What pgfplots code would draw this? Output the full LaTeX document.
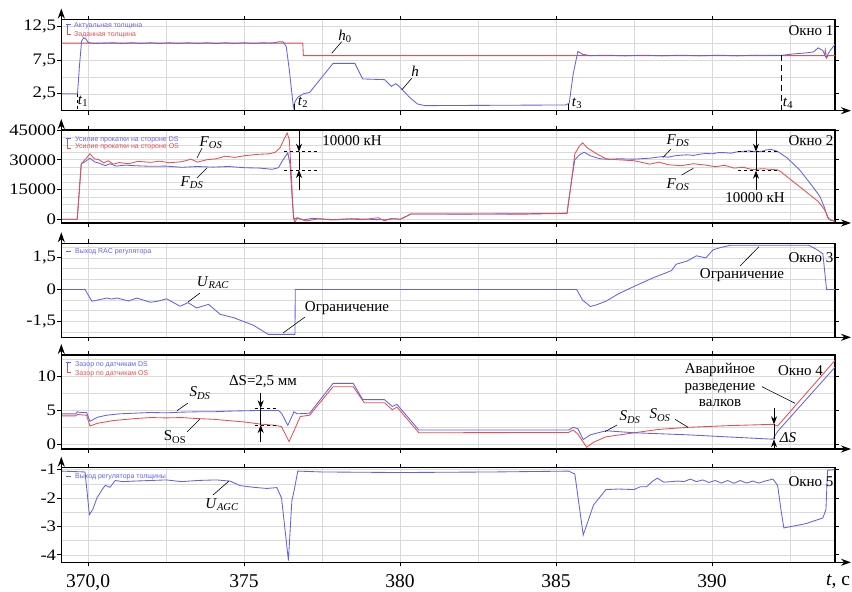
\documentclass[border=0pt]{standalone}
\usepackage{fontspec}
\setmainfont{Liberation Serif}
\newfontfamily\legfont{Liberation Sans}
\usepackage{graphicx}
\usepackage{pgfplots}
\pgfplotsset{compat=1.18}
\usetikzlibrary{arrows.meta}

\definecolor{ublue}{RGB}{98,98,230}
\definecolor{ured}{RGB}{232,78,78}
\definecolor{gridc}{RGB}{218,218,218}

\newcommand\tk[1]{\scalebox{1.17}[1]{#1}}

\pgfplotsset{
  panel/.style={
    anchor=south west, scale only axis, width=773.7pt,
    xmin=369.14, xmax=393.94,
    xtick={370,375,380,385,390},
    minor xtick={372.5,377.5,382.5,387.5,392.5},
    xticklabels={},
    grid=both,
    major grid style={gridc, line width=0.6pt},
    minor grid style={gridc, line width=0.6pt},
    axis line style={line width=1.2pt},
    tick align=outside,
    major tick length=4pt, minor tick length=0pt,
    every tick/.style={black, line width=1pt},
    scaled y ticks=false,
    yticklabel style={font=\rmfamily\fontsize{16}{16}\selectfont, inner sep=1pt},
    xticklabel style={font=\rmfamily\fontsize{19.5}{20}\selectfont, yshift=-5pt},
  },
  ln/.style={line width=0.85pt, no markers},
}

\begin{document}
\begin{tikzpicture}
\path[use as bounding box] (0,0) rectangle (852pt,-592pt);

% ---------- Okno 1 ----------
\begin{axis}[panel, at={(61.3pt,-110.7pt)}, height=91.2pt,
  ymin=0, ymax=13.5, ytick={2.5,7.5,12.5}, minor ytick={0,5,10},
  yticklabels={{\tk{2,5}},{\tk{7,5}},{\tk{12,5}}}]
\addplot[ln, ured] coordinates {
(369.14,10)(376.88,10)(376.9,8.15)(393.6,8.15)(393.63,9.0)(393.67,7.8)(393.72,8.15)(393.94,8.15)};
\addplot[ln, ublue] coordinates {
(369.14,2.5)(369.66,2.5)(369.72,6.5)(369.79,10.3)(369.86,10.8)(369.93,10.6)(370.0,10.1)
(370.2,9.95)(370.5,10.0)(370.8,10.05)(371.1,9.95)(371.4,10.05)(371.7,9.95)(372,10.05)
(372.3,9.95)(372.6,10.05)(372.9,9.95)(373.2,10.05)(373.5,9.95)(373.8,10.05)(374.1,9.95)
(374.4,10.05)(374.7,9.95)(375,10.05)(375.3,9.95)(375.6,10.05)(375.9,10.0)(376.1,10.2)
(376.25,10.2)(376.35,9.5)(376.45,6)(376.52,3)(376.58,0.5)(376.63,1.3)(376.72,2.0)
(376.9,2.5)(377.1,2.7)(377.85,7.0)(378.55,7.0)(378.8,4.7)(379.5,4.6)(379.72,3.6)
(379.86,4.0)(379.95,3.7)(380.3,2.0)(380.55,1.0)(380.8,0.75)(385.3,0.85)(385.42,1.1)
(385.55,5.5)(385.7,8.8)(385.85,8.35)(386.1,8.15)(386.6,8.22)(387.2,8.12)(387.8,8.22)
(388.4,8.12)(389,8.22)(389.6,8.12)(390.2,8.22)(390.8,8.12)(391.4,8.22)(392.2,8.18)
(392.6,8.4)(393.0,8.55)(393.25,8.7)(393.4,9.3)(393.55,8.9)(393.65,7.9)(393.8,9.0)(393.94,9.8)};
\end{axis}

% ---------- Okno 2 ----------
\begin{axis}[panel, at={(61.3pt,-223pt)}, height=93pt,
  ymin=-1870, ymax=45000, ytick={0,15000,30000,45000},
  minor ytick={3750,7500,11250,18750,22500,26250,33750,37500,41250},
  yticklabels={{\tk{0}},{\tk{15000}},{\tk{30000}},{\tk{45000}}}]
\addplot[ln, ublue] coordinates {
(369.14,0)(369.65,0)(369.72,15000)(369.78,28000)(369.9,29000)(370.06,30800)(370.2,29000)
(370.4,28000)(370.55,27000)(370.7,28000)(370.9,26800)(371.2,27300)(371.5,27000)(372,26700)
(372.5,26800)(373,26200)(373.5,26600)(374,26300)(374.5,26600)(375,26000)(375.5,25800)
(375.9,25200)(376.1,26000)(376.25,30000)(376.4,33500)(376.47,28000)(376.55,8000)(376.6,0)
(376.7,800)(376.9,-300)(377.2,500)(377.6,0)(378,-200)(378.5,300)(379,0)(379.5,-300)
(379.8,300)(380.0,0)(380.2,1500)(380.35,2700)(382,2600)(384,2800)(385.35,3000)
(385.5,20000)(385.6,30000)(385.75,32500)(385.9,33800)(386.1,32000)(386.4,30500)(386.7,30200)
(387,30500)(387.5,30300)(388,30800)(388.2,31200)(388.4,31600)(388.6,31300)(388.8,32000)
(389.0,32300)(389.2,32500)(389.4,32200)(389.6,32800)(389.8,33200)(390,33000)(390.2,33600)
(390.4,33600)(390.6,33300)(390.8,34000)(391.0,34300)(391.2,34500)(391.4,34000)(391.6,34300)
(391.75,35000)(391.9,35200)(392.1,34200)(392.4,31000)(392.8,25000)(393.2,17000)(393.46,11400)
(393.6,6000)(393.7,1000)(393.8,-500)(393.94,-1000)};
\addplot[ln, ured] coordinates {
(369.14,0)(369.65,0)(369.72,15000)(369.78,28000)(369.9,30000)(370.06,33000)(370.2,30500)
(370.35,30000)(370.5,28500)(370.65,29500)(370.8,27800)(371,28600)(371.3,28000)(371.6,29200)
(372,28700)(372.3,29300)(372.6,28500)(373,29000)(373.3,30300)(373.5,28800)(373.8,30000)
(374.1,30500)(374.4,31800)(374.7,31200)(375,32000)(375.4,32700)(375.8,33000)(376.0,33800)
(376.15,36000)(376.3,41000)(376.38,43500)(376.45,40000)(376.52,20000)(376.58,1000)
(376.62,-1500)(376.7,500)(377,-800)(377.4,300)(377.8,-300)(378.3,200)(378.8,-200)
(379.3,800)(379.5,-800)(379.7,400)(380.0,0)(380.2,1500)(380.35,2700)(382,2700)(384,2600)
(385.35,3000)(385.5,20000)(385.6,33000)(385.75,37000)(385.85,38500)(386,36000)(386.3,33000)
(386.6,30500)(387,30000)(387.5,29500)(388,27800)(388.3,28800)(388.6,27500)(389,27000)
(389.4,28000)(389.8,27300)(390.1,26500)(390.4,27200)(390.7,25800)(391,26200)(391.3,25000)
(391.6,25500)(392.1,24900)(392.2,24000)(392.6,19000)(393,14000)(393.4,9000)(393.6,5000)
(393.75,0)(393.94,-1000)};
\end{axis}

% ---------- Okno 3 ----------
\begin{axis}[panel, at={(61.3pt,-337.3pt)}, height=94pt,
  ymin=-2.26, ymax=2.19, ytick={-1.5,0,1.5},
  minor ytick={-2,-1,-0.5,0.5,1,2},
  yticklabels={{\tk{-1,5}},{\tk{0}},{\tk{1,5}}}]
\addplot[ln, ublue] coordinates {
(369.14,0)(369.9,0)(370.12,-0.55)(370.3,-0.5)(370.6,-0.4)(370.75,-0.45)(370.92,-0.4)
(371.3,-0.54)(371.56,-0.4)(371.99,-0.6)(372.2,-0.56)(372.52,-0.44)(372.95,-0.79)(373.2,-0.62)
(373.48,-0.87)(373.86,-0.7)(374.23,-1.17)(374.66,-1.33)(375.3,-1.69)(375.77,-2.12)
(376.63,-2.12)(376.64,0)(385.66,0)(385.85,-0.5)(386.1,-0.8)(386.3,-0.72)(386.6,-0.55)
(387,-0.2)(387.5,0.15)(388.1,0.55)(388.5,0.78)(388.7,0.9)(388.85,1.2)(389.2,1.35)
(389.5,1.6)(389.8,1.5)(390.03,1.88)(390.25,1.98)(390.6,2.1)(393.1,2.1)(393.35,1.9)
(393.55,1.7)(393.67,0)(393.94,0)};
\end{axis}

% ---------- Okno 4 ----------
\begin{axis}[panel, at={(61.3pt,-449pt)}, height=94pt,
  ymin=-0.7, ymax=13.2, ytick={0,5,10}, minor ytick={2.5,7.5,12.5},
  yticklabels={{\tk{0}},{\tk{5}},{\tk{10}}}]
\addplot[ln, ured] coordinates {
(369.14,4.2)(369.6,4.2)(369.65,4.4)(369.95,4.3)(370.06,2.7)(370.3,3.1)(370.8,3.5)
(371.5,3.8)(372,3.95)(372.5,3.9)(373,3.95)(373.5,3.8)(374,3.7)(374.5,3.5)(375,3.3)
(375.5,3.0)(376.0,2.8)(376.2,2.6)(376.44,0.4)(376.6,2.0)(376.8,4.1)(377.1,4.3)
(377.85,8.5)(378.5,8.5)(378.85,6.15)(379.5,6.15)(379.75,5.1)(379.9,5.5)(380.6,1.7)
(385.4,1.75)(385.55,2.1)(385.7,1.5)(385.98,-0.45)(386.2,0.3)(386.6,1.1)(387.5,1.7)
(388.3,2.2)(389.2,2.5)(390.5,2.75)(391.95,2.95)(392.1,2.7)(393.94,12.4)};
\addplot[ln, ublue] coordinates {
(369.14,4.5)(369.6,4.5)(369.65,4.8)(369.75,4.7)(369.95,4.7)(370.06,3.4)(370.3,4.0)
(370.6,4.3)(371,4.5)(371.5,4.6)(372,4.7)(372.5,4.65)(373,4.75)(373.5,4.8)(374,4.8)
(374.5,4.9)(375,4.95)(375.5,5.0)(376.1,5.0)(376.2,4.6)(376.4,2.8)(376.5,3.8)(376.6,4.8)
(376.7,4.5)(377.1,4.6)(377.85,9.0)(378.5,9.0)(378.8,6.6)(379.5,6.6)(379.75,5.6)
(379.9,5.9)(380.6,2.1)(385.4,2.1)(385.55,2.5)(385.7,2.3)(385.87,0.7)(386.1,1.4)
(386.6,2.0)(387.5,1.7)(389.2,1.4)(391.3,0.9)(391.95,0.75)(392.1,1.9)(393.94,11.4)};
\end{axis}

% ---------- Okno 5 ----------
\begin{axis}[panel, at={(61.3pt,-562.3pt)}, height=94.6pt,
  ymin=-4.26, ymax=-0.93, ytick={-4,-3,-2,-1}, minor ytick={-3.5,-2.5,-1.5},
  yticklabels={{\tk{-4}},{\tk{-3}},{\tk{-2}},{\tk{-1}}},
  xticklabels={{370,0},375,380,385,390}]
\addplot[ln, ublue] coordinates {
(369.14,-1.05)(369.9,-1.08)(369.95,-1.6)(370.04,-2.58)(370.15,-2.4)(370.28,-2.0)
(370.45,-1.7)(370.55,-1.55)(370.7,-1.62)(370.87,-1.38)(371.1,-1.42)(371.5,-1.4)
(372,-1.38)(372.5,-1.36)(373,-1.42)(373.5,-1.38)(374.1,-1.36)(374.55,-1.4)(374.87,-1.56)
(375.3,-1.62)(375.73,-1.66)(376.05,-1.63)(376.2,-2.0)(376.42,-4.2)(376.53,-2.1)
(376.6,-1.75)(376.72,-1.05)(377.5,-1.08)(380,-1.1)(383,-1.08)(385.4,-1.05)(385.6,-1.15)
(385.87,-3.3)(386.2,-2.24)(386.6,-1.7)(387.0,-1.68)(387.5,-1.7)(387.7,-1.6)(387.9,-1.6)
(388.1,-1.4)(388.25,-1.3)(388.45,-1.44)(388.7,-1.42)(388.9,-1.4)(389.1,-1.42)(389.3,-1.33)
(389.5,-1.42)(389.7,-1.36)(389.9,-1.45)(390.1,-1.38)(390.3,-1.47)(390.5,-1.38)(390.7,-1.48)
(390.9,-1.38)(391.1,-1.47)(391.3,-1.4)(391.5,-1.47)(391.7,-1.4)(391.95,-1.33)(392.1,-1.55)
(392.22,-2.5)(392.3,-3.05)(393.0,-2.9)(393.55,-2.7)(393.65,-2.4)(393.7,-1.02)(393.94,-1.0)};
\end{axis}

% ---------- annotations (pixel coordinates) ----------
\begin{scope}[x=1pt, y=-1pt, font=\fontsize{15}{15}\selectfont,
  ar/.style={line width=1.2pt, -{Stealth[length=10pt,width=7pt]}},
  dm/.style={-{Stealth[length=8pt,width=6pt]}, line width=0.7pt},
  ld/.style={line width=0.6pt},
  lg/.style={anchor=west, inner sep=0, font=\legfont\fontsize{7}{7}\selectfont}]
\foreach \b/\t in {110.7/19.5, 223/130, 337.3/243.3, 449/355, 562.3/467.7} {
  \draw[ar] (61.3,\b) -- (61.3,\t-11);
  \draw[ar] (61.3,\b) -- (851,\b);
}
% legends
\draw[ublue, line width=0.6pt] (66,24) -- (71,24) (67.5,24) -- (67.5,29);
\draw[ured, line width=0.6pt] (67.5,29) -- (67.5,34) -- (71,34);
\node[lg, text=ublue] at (74,25.7) {Актуальная толщина};
\node[lg, text=ured] at (74,34.3) {Заданная толщина};
\draw[ublue, line width=0.6pt] (66,138) -- (71,138) (67.5,138) -- (67.5,143);
\draw[ured, line width=0.6pt] (67.5,143) -- (67.5,148) -- (71,148);
\node[lg, text=ublue] at (75,140) {Усилие прокатки на стороне DS};
\node[lg, text=ured] at (75,147) {Усилие прокатки на стороне OS};
\draw[ublue, line width=0.6pt] (66,251.7) -- (71,251.7);
\node[lg, text=ublue] at (75,251.7) {Выход RAC регулятора};
\draw[ublue, line width=0.6pt] (66,362) -- (71,362) (67.5,362) -- (67.5,367);
\draw[ured, line width=0.6pt] (67.5,367) -- (67.5,372) -- (71,372);
\node[lg, text=ublue] at (75,364.3) {Зазор по датчикам DS};
\node[lg, text=ured] at (75,373.3) {Зазор по датчикам OS};
\draw[ublue, line width=0.6pt] (66,476.7) -- (71,476.7);
\node[lg, text=ublue] at (75,476.7) {Выход регулятора толщины};

% window labels
\node at (811,30.5) {Окно 1};
\node at (811,141) {Окно 2};
\node at (811,258) {Окно 3};
\node at (800.5,370.7) {Окно 4};
\node at (811,481.7) {Окно 5};

% panel 1
\draw[line width=1pt, dashed] (77.7,94) -- (77.7,111);
\draw[line width=1pt] (294.7,104) -- (294.7,111);
\draw[line width=1pt] (568,104) -- (568,111);
\draw[line width=1pt, dash pattern=on 6pt off 4pt] (781.7,55) -- (781.7,111);
\node at (83,101) {\textit{t}\textsubscript{1}};
\node at (303,102) {\textit{t}\textsubscript{2}};
\node at (577,103) {\textit{t}\textsubscript{3}};
\node at (788,103) {\textit{t}\textsubscript{4}};
\node at (345,36) {\textit{h}\textsubscript{0}};
\draw[ld] (341.7,41.7) -- (331.7,53.3);
\node at (415,71) {\textit{h}};
\draw[ld] (411.7,78.3) -- (401.7,90);

% panel 2
\node at (211,143) {\textit{F}\textsubscript{\textit{OS}}};
\draw[ld] (202,148) -- (197,158);
\node at (192,183) {\textit{F}\textsubscript{\textit{DS}}};
\draw[ld] (197,178) -- (207,168);
\draw[ld, dashed] (284,151.7) -- (320,151.7) (284,170) -- (320,170);
\draw[ld] (299,151.7) -- (299,170);
\draw[dm] (299,130) -- (299,151.7);
\draw[dm] (299,190) -- (299,170);
\node at (352,141) {10000 кН};
\node at (678,141) {\textit{F}\textsubscript{\textit{DS}}};
\draw[ld] (663,157.5) -- (671,149);
\node at (678,185) {\textit{F}\textsubscript{\textit{OS}}};
\draw[ld] (681.7,175) -- (693.3,168.3);
\draw[ld, dashed] (738,151.7) -- (778,151.7) (738,170.7) -- (778,170.7);
\draw[ld] (756,151.7) -- (756,170.7);
\draw[dm] (756,130) -- (756,151.7);
\draw[dm] (756,190) -- (756,170.7);
\node at (755,197.7) {10000 кН};

% panel 3
\node at (213,283) {\textit{U}\textsubscript{\textit{RAC}}};
\draw[ld] (200,293) -- (188,302);
\node at (347,308) {Ограничение};
\draw[ld] (305,317) -- (283,333);
\node at (742,275) {Ограничение};
\draw[ld] (740,266) -- (759,246.7);

% panel 4
\node at (200,393) {\textit{S}\textsubscript{\textit{DS}}};
\draw[ld] (188,403) -- (177,410.7);
\node at (175,437) {S\textsubscript{OS}};
\draw[ld] (187,432) -- (200,419);
\node at (263,382) {ΔS=2,5 мм};
\draw[ld, dashed] (255,408.3) -- (277,408.3) (255,425) -- (277,425);
\draw[ld] (260.7,408.3) -- (260.7,425);
\draw[dm] (260.7,392.7) -- (260.7,408.3);
\draw[dm] (260.7,441.7) -- (260.7,425);
\node at (630,417) {\textit{S}\textsubscript{\textit{DS}}};
\draw[ld] (617,425) -- (605,431.7);
\node at (660,415) {\textit{S}\textsubscript{\textit{OS}}};
\draw[ld] (675,419.3) -- (688,427.3);
\node[align=center, font=\fontsize{15}{16.8}\selectfont] at (720,385) {Аварийное\\разведение\\валков};
\draw[ld] (762,386.7) -- (795,403.3);
\node at (788,438) {\textit{ΔS}};
\draw[ld] (774,424.3) -- (774,439.3);
\draw[dm] (774,408) -- (774,424.3);
\draw[dm] (774,449) -- (774,439.3);

% panel 5
\node at (222,505) {\textit{U}\textsubscript{\textit{AGC}}};
\draw[ld] (213,495) -- (229,481);
\node[font=\fontsize{19.5}{20}\selectfont] at (838,581.7) {\textit{t}, с};
\end{scope}
\end{tikzpicture}
\end{document}
